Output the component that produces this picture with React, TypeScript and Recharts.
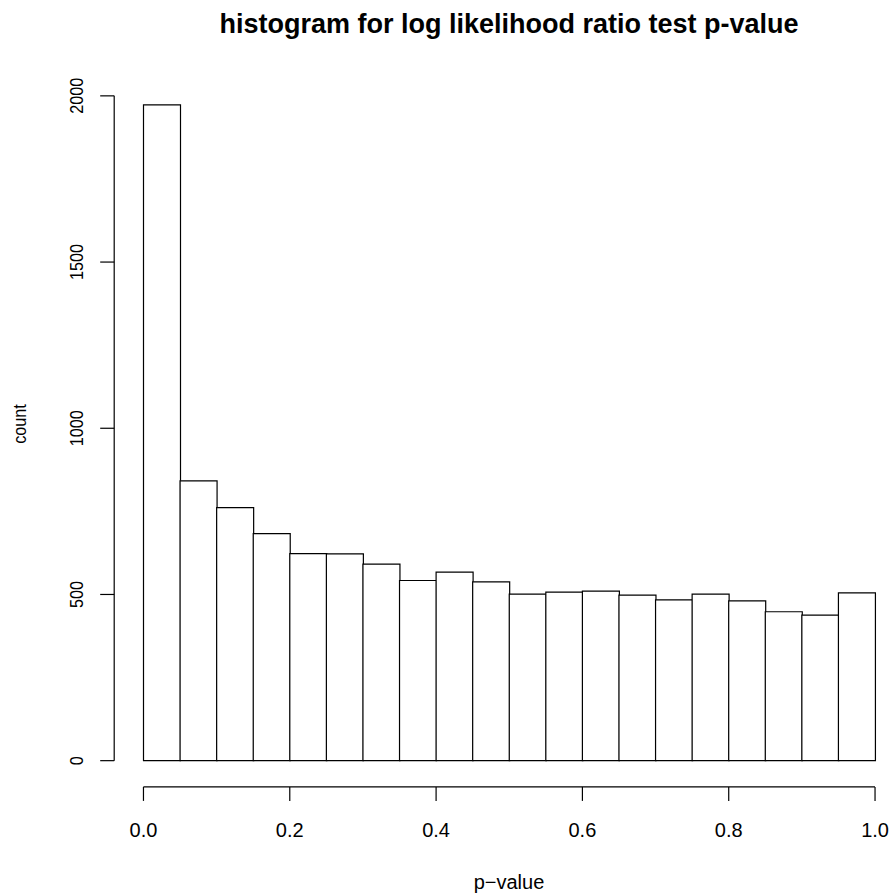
import { BarChart, Bar, XAxis, YAxis, ReferenceLine } from 'recharts';

// histogram bins (left edge of each 0.05 wide bin) and counts
const binStarts = [0, 0.05, 0.1, 0.15, 0.2, 0.25, 0.3, 0.35, 0.4, 0.45, 0.5, 0.55, 0.6, 0.65, 0.7, 0.75, 0.8, 0.85, 0.9, 0.95];
const counts = [1973, 842, 761, 683, 623, 622, 591, 542, 567, 538, 501, 507, 510, 498, 484, 501, 481, 448, 438, 505];

const binWidth = 0.05;
const xTicks = [0, 0.2, 0.4, 0.6, 0.8, 1];
const yTicks = [0, 500, 1000, 1500, 2000];

const labelFont = "'Liberation Sans', Arial, Helvetica, sans-serif";
const xLabelSize = 20;
const yLabelSize = 18;

// R pads each axis range by 4%
const maxCount = Math.max(...counts);
const yLow = -0.04 * maxCount;
const yHigh = 1.04 * maxCount;
const xLow = -0.04;
const xHigh = 1.04;

const data = binStarts.map((b, i) => ({ bin: b.toFixed(2), mid: b + binWidth / 2, count: counts[i] }));

const XTick = ({ x, y, payload }: any) => (
  <text x={x} y={y} dy="0.71em" textAnchor="middle" fontSize={xLabelSize} fill="#000" fontFamily={labelFont}>
    {Number(payload.value).toFixed(1)}
  </text>
);

// vertical text, slightly condensed along its run like the R device font
const VText = ({ x, y, children }: any) => (
  <text
    transform={`translate(${x} ${y}) rotate(-90) scale(0.9 1)`}
    textAnchor="middle"
    fontSize={yLabelSize}
    fill="#000"
    fontFamily={labelFont}
  >
    {children}
  </text>
);

const YTick = ({ x, y, payload }: any) => <VText x={x} y={y}>{payload.value}</VText>;

export default function App() {
  return (
    <div style={{ position: 'absolute', left: 0, top: 0, width: 893, height: 896, overflow: 'hidden', background: '#fff' }}>
      <BarChart
        width={910}
        height={896}
        data={data}
        margin={{ top: 78.6, right: 5.7, bottom: 0, left: 0 }}
        barCategoryGap={0}
        barGap={0}
      >
        <XAxis
          xAxisId="p"
          dataKey="mid"
          type="number"
          domain={[xLow, xHigh]}
          allowDataOverflow
          ticks={xTicks}
          interval={0}
          height={109.1}
          axisLine={false}
          tickSize={14}
          tickMargin={22}
          stroke="#000"
          tickLine={{ stroke: '#000', strokeWidth: 1.2 }}
          tick={<XTick />}
        />
        <XAxis xAxisId="bin" dataKey="bin" type="category" hide height={0} padding={{ left: 29.3, right: 29.3 }} />
        <YAxis
          type="number"
          domain={[yLow, yHigh]}
          allowDataOverflow
          ticks={yTicks}
          interval={0}
          width={114.2}
          axisLine={false}
          tickSize={14}
          tickMargin={17}
          stroke="#000"
          tickLine={{ stroke: '#000', strokeWidth: 1.2 }}
          tick={<YTick />}
        />
        <Bar
          xAxisId="bin"
          dataKey="count"
          fill="#fff"
          stroke="#000"
          strokeWidth={1.2}
          isAnimationActive={false}
        />
        <ReferenceLine
          xAxisId="p"
          ifOverflow="visible"
          segment={[{ x: 0, y: yLow }, { x: 1, y: yLow }]}
          stroke="#000"
          strokeWidth={1.2}
        />
        <ReferenceLine
          xAxisId="p"
          ifOverflow="visible"
          segment={[{ x: xLow, y: 0 }, { x: xLow, y: 2000 }]}
          stroke="#000"
          strokeWidth={1.2}
        />
      </BarChart>
      <svg width={893} height={896} style={{ position: 'absolute', left: 0, top: 0, pointerEvents: 'none' }}>
        <text x={509} y={33} textAnchor="middle" fontSize={27} fontWeight="bold" fontFamily={labelFont} fill="#000">
          histogram for log likelihood ratio test p-value
        </text>
        <text x={509} y={889} textAnchor="middle" fontSize={xLabelSize} fontFamily={labelFont} fill="#000">
          p−value
        </text>
        <VText x={26} y={424}>count</VText>
      </svg>
    </div>
  );
}
